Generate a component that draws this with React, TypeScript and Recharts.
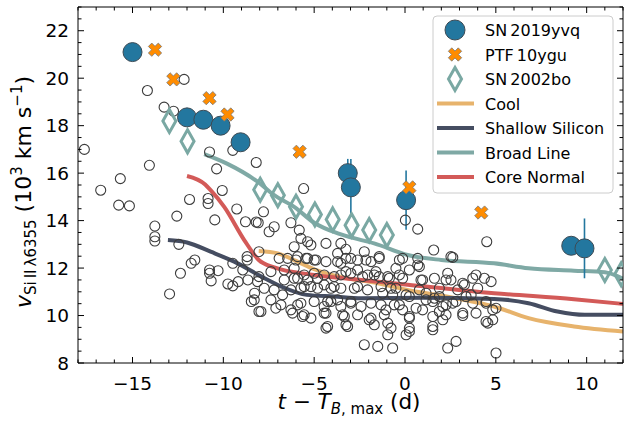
import React from "react";
import {
  ComposedChart,
  Scatter,
  Line,
  XAxis,
  YAxis,
  ErrorBar,
} from "recharts";

const FONT = "DejaVu Sans, sans-serif";

// SN 2019yvq (x = days from B max, y = velocity 10^3 km/s, err = 1 sigma)
const yvqX = [-15.0, -12.0, -11.1, -10.15, -9.05, -3.15, -2.98, 0.06, 9.15, 9.88];
const yvqY = [21.1, 18.35, 18.25, 18.0, 17.3, 16.0, 15.4, 14.86, 12.94, 12.83];
const yvqErr = [0.2, 0, 0, 0, 0, 0.6, 1.2, 1.25, 0, 1.26];

const ptfX = [-13.76, -12.75, -10.76, -9.77, -5.8, 0.24, 4.2];
const ptfY = [21.2, 19.95, 19.16, 18.47, 16.9, 15.4, 14.34];

const bo02X = [-12.97, -11.97, -7.97, -7.0, -6.0, -4.96, -3.98, -2.94, -1.97, -1.0, 11.0, 11.9];
const bo02Y = [18.2, 17.34, 15.3, 15.07, 14.58, 14.26, 14.05, 13.8, 13.6, 13.39, 11.92, 11.74];

// subclass mean curves
const coolLine = [
  [-8.05, 12.72], [-7, 12.62], [-6, 12.3], [-5, 11.95], [-3.5, 11.62], [-1.5, 11.36],
  [0, 11.1], [2.5, 10.77], [4.9, 10.38], [6.8, 9.89], [9.3, 9.54], [12, 9.33],
];
const shallowLine = [
  [-13.05, 13.18], [-12, 13.08], [-10.7, 12.69], [-9.4, 12.27], [-7.9, 11.64], [-6.8, 11.22],
  [-5.4, 10.87], [-3.9, 10.8], [-2.4, 10.73], [1, 10.75], [4.9, 10.7], [6.8, 10.52],
  [8.4, 10.17], [9.9, 10.03], [12, 10.03],
];
const broadLine = [
  [-11.05, 16.8], [-9.8, 16.4], [-8.1, 15.63], [-7.2, 15.07], [-6.1, 14.58], [-5, 13.91],
  [-3.7, 13.46], [-2.4, 13.18], [-1.7, 13.04], [0.15, 12.55], [2, 12.34], [4.9, 12.2],
  [6.8, 11.99], [9.3, 11.89], [11, 11.82], [12, 11.55],
];
const coreLine = [
  [-12, 15.88], [-11, 15.52], [-10.7, 15.28], [-9.95, 14.58], [-8.85, 13.18], [-8.05, 12.34],
  [-7.2, 12.03], [-5, 11.71], [-2.4, 11.5], [0.15, 11.3], [4.9, 10.94], [9.3, 10.69], [12, 10.49],
];

// comparison sample (open circles)
const sample = [
  [-17.65, 17.0], [-16.75, 15.28], [-15.67, 15.77], [-14.07, 16.33], [-15.76, 14.65], [-15.17, 14.62],
  [-14.18, 19.48], [-12.16, 19.95], [-13.26, 18.78], [-12.74, 18.61], [-13.77, 13.77], [-13.77, 13.32],
  [-13.77, 13.14], [-12.56, 14.19], [-11.86, 14.89], [-10.76, 16.89], [-9.48, 16.96], [-10.37, 16.18],
  [-10.06, 15.27], [-10.84, 14.93], [-10.84, 14.72], [-10.47, 14.03], [-9.26, 14.49], [-8.78, 13.95],
  [-8.19, 16.45], [-8.19, 13.94], [-5.58, 15.35], [-12.45, 13.0], [-11.57, 12.34], [-11.77, 12.2],
  [-12.36, 11.78], [-12.96, 10.91], [-10.76, 11.92], [-10.76, 11.78], [-10.29, 11.89], [-10.67, 11.46],
  [-9.75, 11.33], [-9.48, 11.25], [-9.18, 11.43], [-9.48, 12.2], [-8.69, 12.48], [-8.69, 12.34],
  [-8.93, 11.92], [-8.65, 11.5], [-8.28, 10.94], [-8.46, 10.59], [-8.04, 10.17], [-8.04, 12.69],
  [-8.04, 11.64],
  [-7.79, 14.37], [-8.08, 13.91], [-7.48, 13.53], [-7.2, 13.74], [-6.28, 13.91], [-5.82, 13.6],
  [-5.73, 13.25], [-5.36, 13.11], [-5.18, 12.97], [-6.1, 12.9], [-4.35, 13.04], [-3.53, 13.04],
  [-3.25, 12.79], [-2.24, 12.69], [-3.71, 12.62], [-2.98, 12.41], [-2.15, 12.34], [-3.53, 12.2],
  [-4.35, 12.27], [-4.9, 12.34], [-5.36, 12.41], [-5.91, 12.48], [-6.46, 12.41], [-6.93, 12.41],
  [-7.38, 11.85], [-6.65, 11.92], [-6.1, 11.99], [-6.65, 11.5], [-6.1, 11.57], [-5.55, 11.71],
  [-5.0, 11.78], [-4.45, 11.71], [-3.9, 11.64], [-3.25, 11.85], [-2.61, 11.92], [-2.06, 11.71],
  [-1.6, 11.85], [-8.12, 11.43], [-7.75, 11.15], [-7.2, 11.08], [-6.74, 10.87], [-6.28, 11.08],
  [-5.55, 11.22], [-4.81, 11.15], [-4.08, 11.15], [-3.53, 11.15], [-2.79, 11.15], [-2.06, 11.08],
  [-8.3, 10.66], [-7.38, 10.66], [-6.83, 10.45], [-6.28, 10.24], [-5.73, 10.52], [-5.0, 10.59],
  [-4.45, 10.38], [-4.08, 10.59], [-3.53, 10.38], [-2.98, 10.52], [-2.42, 10.38], [-1.87, 10.52],
  [-7.93, 10.17], [-7.11, 10.31], [-6.19, 10.1], [-5.55, 10.03], [-5.18, 9.89], [-4.35, 10.1],
  [-3.43, 10.03], [-2.61, 10.03], [-1.97, 9.82], [-4.35, 9.47], [-3.25, 9.61], [-2.24, 8.77],
  [-1.5, 8.7],
  [0.02, 14.02], [0.7, 13.64], [4.5, 13.11], [1.58, 12.76], [2.63, 12.45], [-1.42, 12.48],
  [-0.31, 12.34], [0.7, 12.41], [-0.5, 11.99], [0.24, 11.92], [0.79, 12.06], [1.62, 11.57],
  [2.35, 11.78], [2.53, 11.5], [3.91, 11.71], [4.37, 11.57], [4.74, 11.43], [-1.42, 11.64],
  [-0.86, 11.57], [-0.13, 11.57], [0.97, 11.5], [3.27, 11.29], [4.0, 11.15], [-1.23, 10.94],
  [-0.68, 10.87], [0.24, 10.8], [1.16, 10.66], [1.89, 10.8], [2.08, 10.38], [2.63, 10.52],
  [3.36, 10.8], [3.73, 10.52], [4.46, 10.59], [4.83, 10.24], [-1.05, 10.24], [-0.31, 10.45],
  [0.24, 9.96], [0.97, 10.24], [1.53, 9.96], [2.26, 10.03], [3.18, 10.1], [3.91, 10.1],
  [4.56, 9.68], [-0.95, 9.68], [0.24, 9.47], [1.53, 9.54], [0.06, 9.19], [-0.95, 9.19],
  [-0.68, 8.63], [2.35, 8.63], [2.81, 8.91], [5.01, 8.42], [1.62, 10.73], [2.9, 11.08],
  [1.89, 11.15], [0.79, 11.08], [-0.5, 11.15],
  [-6.0, 12.34], [-5.45, 12.41], [-5.0, 12.34], [-3.71, 12.27], [-3.25, 12.41], [-2.61, 12.34],
  [-1.87, 12.27], [-1.42, 12.41], [-5.91, 11.57], [-5.36, 11.5], [-4.81, 11.57], [-3.53, 11.71],
  [-2.98, 11.78], [-2.33, 11.64], [-1.69, 11.71], [-0.95, 11.64], [-5.73, 11.15], [-5.18, 11.22],
  [-4.45, 11.29], [-3.9, 11.22], [-2.61, 11.22], [-1.32, 11.22], [-0.77, 11.15], [-5.91, 10.45],
  [-4.26, 10.59], [-3.71, 10.66], [-2.98, 10.59], [-1.32, 10.45], [-0.59, 10.45], [-5.64, 9.96],
  [-4.45, 10.1], [-3.34, 9.96], [-1.87, 9.89], [-1.14, 10.03], [-4.26, 9.54], [-3.16, 9.54],
  [-1.69, 9.61], [-0.77, 9.47],
  [-0.13, 12.41], [0.7, 12.13], [2.53, 12.48], [-0.31, 11.71], [0.88, 11.5], [2.26, 11.5],
  [3.73, 11.57], [3.18, 11.36], [0.06, 10.87], [1.16, 10.94], [1.53, 10.59], [2.26, 10.45],
  [2.81, 10.59], [3.64, 10.87], [4.46, 10.52], [5.01, 10.31], [-0.13, 10.24], [0.61, 10.31],
  [1.89, 10.17], [3.18, 10.0], [0.24, 9.89], [2.08, 9.82], [4.46, 9.75], [4.83, 9.82],
  [1.53, 9.4], [0.24, 9.33],
];

const xTicks = Array.from({ length: 31 }, (_, i) => i - 18);
const yTicks = Array.from({ length: 31 }, (_, i) => 8 + i * 0.5);

const C_YVQ = "#23779f";
const C_PTF = "#ff8c00";
const C_BO = "#7aa8a3";
const C_COOL = "#e7b36c";
const C_SHALLOW = "#454d61";
const C_BROAD = "#7fa9a5";
const C_CORE = "#d35a58";

const toPts = (arr: number[][]) => arr.map(([x, y]) => ({ x, y }));
const yvqData = yvqX.map((x, i) => ({ x, y: yvqY[i], err: yvqErr[i] }));
const ptfData = ptfX.map((x, i) => ({ x, y: ptfY[i] }));
const boData = bo02X.map((x, i) => ({ x, y: bo02Y[i] }));

const minus = (v: number) => (v < 0 ? "\u2212" + Math.abs(v) : String(v));

function xPolygon(cx: number, cy: number, s = 7, w = 2.4) {
  const base = [
    [w, s], [w, w], [s, w], [s, -w], [w, -w], [w, -s],
    [-w, -s], [-w, -w], [-s, -w], [-s, w], [-w, w], [-w, s],
  ];
  return base
    .map(([x, y]) => `${cx + (x - y) / Math.SQRT2},${cy + (x + y) / Math.SQRT2}`)
    .join(" ");
}

const OpenCircle = (p: any) => (
  <circle cx={p.cx} cy={p.cy} r={5} fill="none" stroke="#3c3c3c" strokeWidth={1.1} />
);
const BigCircle = (p: any) => (
  <circle cx={p.cx} cy={p.cy} r={9.5} fill={C_YVQ} stroke="#3d4b55" strokeWidth={1} />
);
const XMark = (p: any) => (
  <polygon points={xPolygon(p.cx, p.cy)} fill={C_PTF} stroke="#777" strokeWidth={0.8} />
);
const Diamond = (p: any) => (
  <polygon
    points={`${p.cx},${p.cy - 11.5} ${p.cx + 6.5},${p.cy} ${p.cx},${p.cy + 11.5} ${p.cx - 6.5},${p.cy}`}
    fill="none"
    stroke={C_BO}
    strokeWidth={3}
  />
);

const BottomTick = (p: any) => {
  const v = p.payload.value;
  const major = v % 5 === 0;
  return (
    <g>
      <line x1={p.x} y1={p.y} x2={p.x} y2={p.y - (major ? 6 : 3.5)} stroke="#000" />
      {major && (
        <text x={p.x} y={p.y + 26.5} textAnchor="middle" fontSize={18.5} fontFamily={FONT} fill="#000">
          {minus(v)}
        </text>
      )}
    </g>
  );
};
const TopTick = (p: any) => {
  const major = p.payload.value % 5 === 0;
  return <line x1={p.x} y1={p.y} x2={p.x} y2={p.y + (major ? 6 : 3.5)} stroke="#000" />;
};
const LeftTick = (p: any) => {
  const v = p.payload.value;
  const major = v % 2 === 0;
  return (
    <g>
      <line x1={p.x} y1={p.y} x2={p.x + (major ? 6 : 3.5)} y2={p.y} stroke="#000" />
      {major && (
        <text x={p.x - 9} y={p.y} dy="0.36em" textAnchor="end" fontSize={18.5} fontFamily={FONT} fill="#000">
          {v}
        </text>
      )}
    </g>
  );
};
const RightTick = (p: any) => {
  const major = p.payload.value % 2 === 0;
  return <line x1={p.x} y1={p.y} x2={p.x - (major ? 6 : 3.5)} y2={p.y} stroke="#000" />;
};

const legendRows = [
  { label: "SN\u20092019yvq", kind: "circle" },
  { label: "PTF\u200910ygu", kind: "x" },
  { label: "SN\u20092002bo", kind: "diamond" },
  { label: "Cool", kind: "line", color: C_COOL },
  { label: "Shallow Silicon", kind: "line", color: C_SHALLOW },
  { label: "Broad Line", kind: "line", color: C_BROAD },
  { label: "Core Normal", kind: "line", color: C_CORE },
];

function Overlay() {
  const mx = 455;
  return (
    <svg
      width={624}
      height={424}
      style={{ position: "absolute", left: 0, top: 0, pointerEvents: "none" }}
      fontFamily={FONT}
    >
      <rect x={433} y={16} width={180} height={177} rx={4} fill="#fff" fillOpacity={0.8} stroke="#cccccc" />
      {legendRows.map((r, i) => {
        const cy = 30 + i * 24.5;
        let mark: React.ReactNode = null;
        if (r.kind === "circle") mark = <circle cx={mx} cy={cy} r={10} fill={C_YVQ} stroke="#3d4b55" />;
        else if (r.kind === "x") mark = <polygon points={xPolygon(mx, cy)} fill={C_PTF} stroke="#777" strokeWidth={0.8} />;
        else if (r.kind === "diamond")
          mark = (
            <polygon
              points={`${mx},${cy - 11.5} ${mx + 6.5},${cy} ${mx},${cy + 11.5} ${mx - 6.5},${cy}`}
              fill="none"
              stroke={C_BO}
              strokeWidth={3}
            />
          );
        else mark = <line x1={437} x2={474} y1={cy} y2={cy} stroke={r.color} strokeWidth={4} />;
        return (
          <g key={r.label}>
            {mark}
            <text x={485} y={cy + 6} fontSize={16} fill="#000">
              {r.label}
            </text>
          </g>
        );
      })}
      <text x={349} y={409} textAnchor="middle" fontSize={21.5} fill="#000">
        <tspan fontStyle="italic">t</tspan>
        <tspan>{" \u2212 "}</tspan>
        <tspan fontStyle="italic">T</tspan>
        <tspan fontSize={15} dy={5} fontStyle="italic">B</tspan>
        <tspan fontSize={15}>, max</tspan>
        <tspan dy={-5}>{" (d)"}</tspan>
      </text>
      <text
        transform="translate(31,192) rotate(-90)"
        textAnchor="middle"
        fontSize={22}
        fill="#000"
      >
        <tspan fontStyle="italic">v</tspan>
        <tspan fontSize={15} dy={5}>{"Si\u2009II\u2009\u03bb6355"}</tspan>
        <tspan dy={-5}>{" (10"}</tspan>
        <tspan fontSize={15} dy={-9}>3</tspan>
        <tspan dy={9}>{" km s"}</tspan>
        <tspan fontSize={15} dy={-9}>{"\u22121"}</tspan>
        <tspan dy={9}>)</tspan>
      </text>
    </svg>
  );
}

export default function App() {
  return (
    <div style={{ position: "absolute", left: 0, top: 0, width: 624, height: 424, background: "#fff" }}>
      <ComposedChart width={624} height={424} margin={{ top: 6, right: 0, bottom: 60, left: 77 }}>
        <XAxis
          xAxisId="b"
          dataKey="x"
          type="number"
          domain={[-18, 12]}
          allowDataOverflow
          ticks={xTicks}
          interval={0}
          height={1}
          tickSize={0}
          tickMargin={0}
          tick={<BottomTick />}
          axisLine={{ stroke: "#000" }}
          tickLine={false}
        />
        <XAxis
          xAxisId="t"
          orientation="top"
          dataKey="x"
          type="number"
          domain={[-18, 12]}
          allowDataOverflow
          ticks={xTicks}
          interval={0}
          height={1}
          tickSize={0}
          tickMargin={0}
          tick={<TopTick />}
          axisLine={{ stroke: "#000" }}
          tickLine={false}
        />
        <YAxis
          yAxisId="l"
          dataKey="y"
          type="number"
          domain={[8, 23]}
          allowDataOverflow
          ticks={yTicks}
          interval={0}
          width={1}
          tickSize={0}
          tickMargin={0}
          tick={<LeftTick />}
          axisLine={{ stroke: "#000" }}
          tickLine={false}
        />
        <YAxis
          yAxisId="r"
          orientation="right"
          dataKey="y"
          type="number"
          domain={[8, 23]}
          allowDataOverflow
          ticks={yTicks}
          interval={0}
          width={1}
          tickSize={0}
          tickMargin={0}
          tick={<RightTick />}
          axisLine={{ stroke: "#000" }}
          tickLine={false}
        />
        <Scatter xAxisId="t" yAxisId="r" data={[]} isAnimationActive={false} />
        <Scatter
          xAxisId="b"
          yAxisId="l"
          data={toPts(sample)}
          shape={OpenCircle}
          isAnimationActive={false}
        />
        <Line xAxisId="b" yAxisId="l" data={toPts(coolLine)} dataKey="y" type="monotone" stroke={C_COOL} strokeWidth={4} dot={false} isAnimationActive={false} />
        <Line xAxisId="b" yAxisId="l" data={toPts(shallowLine)} dataKey="y" type="monotone" stroke={C_SHALLOW} strokeWidth={4} dot={false} isAnimationActive={false} />
        <Line xAxisId="b" yAxisId="l" data={toPts(broadLine)} dataKey="y" type="monotone" stroke={C_BROAD} strokeWidth={4} dot={false} isAnimationActive={false} />
        <Line xAxisId="b" yAxisId="l" data={toPts(coreLine)} dataKey="y" type="monotone" stroke={C_CORE} strokeWidth={4} dot={false} isAnimationActive={false} />
        <Scatter xAxisId="b" yAxisId="l" data={boData} shape={Diamond} isAnimationActive={false} />
        <Scatter xAxisId="b" yAxisId="l" data={yvqData} shape={BigCircle} isAnimationActive={false}>
          <ErrorBar dataKey="err" direction="y" width={0} stroke={C_YVQ} strokeWidth={1.6} />
        </Scatter>
        <Scatter xAxisId="b" yAxisId="l" data={ptfData} shape={XMark} isAnimationActive={false} />
      </ComposedChart>
      <Overlay />
    </div>
  );
}
